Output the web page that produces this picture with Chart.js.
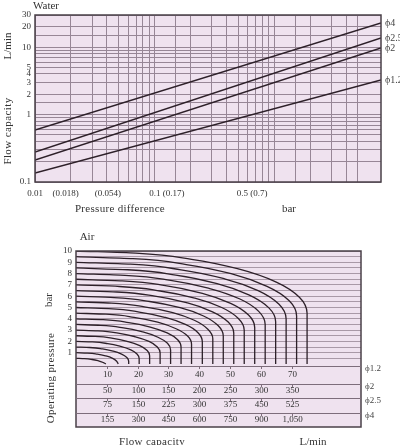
<!DOCTYPE html>
<html>
<head>
<meta charset="utf-8">
<script src="https://cdn.jsdelivr.net/npm/chart.js@4/dist/chart.umd.min.js"></script>
<style>
html,body{margin:0;padding:0;background:#fff;width:400px;height:445px;overflow:hidden;}
body{position:relative;font-family:"Liberation Serif","Times New Roman",serif;color:#333;}
canvas{position:absolute;left:0;}
#water{top:0;}
#air{top:225px;}
.t{position:absolute;white-space:nowrap;font-size:11px;line-height:12px;height:12px;text-align:center;width:140px;}
.r{transform:rotate(-90deg);transform-origin:50% 50%;}
</style>
</head>
<body>
<canvas id="water" width="400" height="220"></canvas>
<canvas id="air" width="400" height="220"></canvas>

<div class="t" style="left:-24px;top:-1px;">Water</div>
<div class="t r" style="left:-63px;top:40px;">L/min</div>
<div class="t r" style="left:-63px;top:125px;letter-spacing:0.4px;">Flow capacity</div>
<div class="t" style="left:50px;top:202px;letter-spacing:0.3px;">Pressure difference</div>
<div class="t" style="left:219px;top:202px;">bar</div>

<div class="t" style="left:17px;top:230px;">Air</div>
<div class="t r" style="left:-22px;top:294px;">bar</div>
<div class="t r" style="left:-20px;top:372px;letter-spacing:0.4px;">Operating pressure</div>
<div class="t" style="left:82px;top:435px;letter-spacing:0.3px;">Flow capacity</div>
<div class="t" style="left:243px;top:435px;">L/min</div>

<script>
// ---------------- Water chart data ----------------
const waterXRange = [0.01, 7.85];          // pressure difference (bar) at the two ends of each line
const waterPhi4  = [0.59, 22.9];           // flow capacity L/min
const waterPhi25 = [0.279, 13.7];
const waterPhi2  = [0.212, 9.73];
const waterPhi12 = [0.136, 3.26];
const waterNames = ['ϕ4', 'ϕ2.5', 'ϕ2', 'ϕ1.2'];
const waterYTickLabels = [0.1, 1, 2, 3, 4, 5, 10, 20, 30];
const waterXTickValues = [0.01, 0.018, 0.0408, 0.127, 0.655];
const waterXTickLabels = ['0.01', '(0.018)', '(0.054)', '0.1 (0.17)', '0.5 (0.7)'];

// ---------------- Air chart data (flow for ϕ1.2 in L/min, outlet pressure in bar) ----------------
const c0_5  = [[0,0.5],[2.7,0.47],[5.2,0.4],[7.3,0.28],[8.9,0.12],[9.7,0]];
const c1_0  = [[0,1],[3.6,0.97],[6.9,0.87],[9.7,0.71],[11.9,0.5],[13.2,0.25],[13.7,0]];
const c1_5  = [[0,1.5],[4.4,1.46],[8.6,1.33],[12.1,1.13],[14.8,0.87],[16.5,0.57],[17.1,0.24],[17.1,0]];
const c2_0  = [[0,2],[5.3,1.95],[10.3,1.8],[14.5,1.56],[17.8,1.25],[19.8,0.88],[20.5,0.49],[20.5,0]];
const c2_5  = [[0,2.5],[6.2,2.44],[12,2.27],[16.9,1.99],[20.7,1.62],[23.1,1.2],[23.9,0.74],[23.9,0]];
const c3_0  = [[0,3],[7.1,2.93],[13.7,2.73],[19.3,2.41],[23.7,2],[26.4,1.51],[27.3,0.99],[27.3,0]];
const c3_5  = [[0,3.5],[8,3.42],[15.4,3.2],[21.7,2.84],[26.6,2.37],[29.7,1.83],[30.7,1.24],[30.7,0]];
const c4_0  = [[0,4],[8.8,3.92],[17.1,3.66],[24.1,3.27],[29.6,2.75],[33,2.14],[34.1,1.49],[34.1,0]];
const c4_5  = [[0,4.5],[9.7,4.41],[18.8,4.13],[26.5,3.7],[32.5,3.12],[36.3,2.46],[37.5,1.74],[37.5,0]];
const c5_0  = [[0,5],[10.6,4.9],[20.5,4.6],[29,4.12],[35.5,3.5],[39.6,2.77],[41,1.99],[41,0]];
const c5_5  = [[0,5.5],[11.5,5.39],[22.2,5.06],[31.4,4.55],[38.4,3.87],[42.8,3.08],[44.4,2.24],[44.4,0]];
const c6_0  = [[0,6],[12.4,5.88],[23.9,5.53],[33.8,4.98],[41.4,4.25],[46.1,3.4],[47.8,2.49],[47.8,0]];
const c6_5  = [[0,6.5],[13.3,6.37],[25.6,6],[36.2,5.4],[44.3,4.62],[49.4,3.71],[51.2,2.74],[51.2,0]];
const c7_0  = [[0,7],[14.1,6.86],[27.3,6.46],[38.6,5.83],[47.3,5],[52.7,4.03],[54.6,2.99],[54.6,0]];
const c7_5  = [[0,7.5],[15,7.36],[29,6.93],[41,6.26],[50.2,5.37],[56,4.34],[58,3.24],[58,0]];
const c8_0  = [[0,8],[15.9,7.85],[30.7,7.4],[43.4,6.68],[53.2,5.75],[59.3,4.66],[61.4,3.49],[61.4,0]];
const c8_5  = [[0,8.5],[16.8,8.34],[32.4,7.86],[45.8,7.11],[56.1,6.12],[62.6,4.97],[64.8,3.74],[64.8,0]];
const c9_0  = [[0,9],[17.7,8.83],[34.1,8.33],[48.2,7.54],[59.1,6.5],[65.9,5.29],[68.2,3.99],[68.2,0]];
const c9_5  = [[0,9.5],[18.5,9.32],[35.8,8.8],[50.6,7.97],[62,6.87],[69.2,5.6],[71.6,4.24],[71.6,0]];
const c10_0 = [[0,10],[19.4,9.81],[37.5,9.26],[53,8.39],[65,7.25],[72.5,5.91],[75,4.49],[75,0]];
const airCurves = [c0_5,c1_0,c1_5,c2_0,c2_5,c3_0,c3_5,c4_0,c4_5,c5_0,c5_5,c6_0,c6_5,c7_0,c7_5,c8_0,c8_5,c9_0,c9_5,c10_0];

const airYTickLabels = [1,2,3,4,5,6,7,8,9,10];
const tableColumnsAt = [10,20,30,40,50,60,70];           // position on the ϕ1.2 flow axis
const tableNames = ['ϕ1.2','ϕ2','ϕ2.5','ϕ4'];
const flowPhi12 = ['10','20','30','40','50','60','70'];
const flowPhi2  = ['50','100','150','200','250','300','350'];
const flowPhi25 = ['75','150','225','300','375','450','525'];
const flowPhi4  = ['155','300','450','600','750','900','1,050'];

// ---------------- styling ----------------
const SERIF = "'Liberation Serif','Times New Roman',serif";
const BG = '#efe2ef';
const GRID = '#978696';
const LINE = '#2d2029';
const TXT = '#333';
Chart.defaults.font.family = SERIF;
Chart.defaults.color = TXT;

const framePlugin = {
  id: 'frame',
  beforeDraw(chart) {
    const {ctx, chartArea: a} = chart;
    ctx.save();
    ctx.fillStyle = BG;
    ctx.fillRect(a.left, a.top, a.right - a.left, a.bottom - a.top);
    ctx.restore();
  },
  afterDraw(chart) {
    const {ctx, chartArea: a} = chart;
    ctx.save();
    ctx.strokeStyle = '#4a4048';
    ctx.lineWidth = 1.5;
    ctx.strokeRect(a.left, a.top, a.right - a.left, a.bottom - a.top);
    ctx.restore();
  }
};

const endLabels = {
  id: 'endLabels',
  afterDatasetsDraw(chart) {
    const {ctx, chartArea: a} = chart;
    ctx.save();
    ctx.font = '10px ' + SERIF;
    ctx.fillStyle = '#444';
    ctx.textBaseline = 'middle';
    chart.data.datasets.forEach((d, i) => {
      const meta = chart.getDatasetMeta(i);
      const p = meta.data[meta.data.length - 1];
      ctx.fillText(d.label, a.right + 4, p.y);
    });
    ctx.restore();
  }
};

const near = (list, v) => list.some(t => Math.abs(t - v) <= Math.abs(t) * 1e-6);

// ---------------- Water chart ----------------
const waterSeries = [waterPhi4, waterPhi25, waterPhi2, waterPhi12];
new Chart(document.getElementById('water'), {
  type: 'line',
  data: {
    datasets: waterSeries.map((s, i) => ({
      label: waterNames[i],
      data: s.map((v, j) => ({x: waterXRange[j], y: v})),
      borderColor: LINE, borderWidth: 1.5, pointRadius: 0, tension: 0
    }))
  },
  options: {
    responsive: false, animation: false,
    layout: {autoPadding: false, padding: {top: 15, right: 19, left: 0, bottom: 0}},
    plugins: {legend: {display: false}, tooltip: {enabled: false}},
    scales: {
      x: {
        type: 'logarithmic', min: 0.01, max: 7.85, position: 'bottom', weight: 0,
        grid: {color: c => (c.tick && c.tick.value > 5.5) ? 'rgba(0,0,0,0)' : GRID, lineWidth: 1, drawTicks: false},
        border: {display: false},
        ticks: {display: false},
        afterFit: s => { s.height = 0; }
      },
      xl: {
        type: 'logarithmic', min: 0.01, max: 7.85, position: 'bottom', weight: 1,
        grid: {display: false, drawTicks: false}, border: {display: false},
        afterBuildTicks: s => { s.ticks = waterXTickValues.map(v => ({value: v})); },
        ticks: {autoSkip: false, maxRotation: 0, padding: 6, font: {size: 9}, callback: (v, i) => waterXTickLabels[i]},
        afterFit: s => { s.height = 38; }
      },
      y: {
        type: 'logarithmic', min: 0.1, max: 30,
        grid: {color: GRID, lineWidth: 1, drawTicks: false},
        border: {display: false},
        ticks: {autoSkip: false, padding: 4, font: {size: 9},
          callback: v => near(waterYTickLabels, v) ? String(+v.toPrecision(6)) : ''},
        afterFit: s => { s.width = 35; }
      }
    }
  },
  plugins: [framePlugin, endLabels]
});

// ---------------- Air chart ----------------
const tablePlugin = {
  id: 'flowTable',
  afterDraw(chart) {
    const {ctx, chartArea: a, scales: {x, y}} = chart;
    const y0 = y.getPixelForValue(0);
    const lines = [y0 + 2, y0 + 20, y0 + 34, y0 + 49];
    const textAt = [y0 + 11, y0 + 27, y0 + 41, y0 + 56];
    const rows = [flowPhi12, flowPhi2, flowPhi25, flowPhi4];
    ctx.save();
    ctx.strokeStyle = '#7d6d7b';
    ctx.lineWidth = 1;
    lines.forEach(ly => {
      ctx.beginPath(); ctx.moveTo(a.left, Math.round(ly) + 0.5); ctx.lineTo(a.right, Math.round(ly) + 0.5); ctx.stroke();
    });
    ctx.font = '9px ' + SERIF;
    ctx.fillStyle = TXT;
    ctx.textAlign = 'center';
    ctx.textBaseline = 'middle';
    rows.forEach((row, r) => {
      const top = Math.round(lines[r]) + 0.5;
      row.forEach((lbl, k) => {
        const px = Math.round(x.getPixelForValue(tableColumnsAt[k])) + 0.5;
        ctx.beginPath(); ctx.moveTo(px, top); ctx.lineTo(px, top + 2.5); ctx.stroke();
        ctx.fillText(lbl, px, textAt[r]);
      });
    });
    ctx.textAlign = 'left';
    ctx.fillStyle = '#444';
    tableNames.forEach((n, r) => ctx.fillText(n, a.right + 4, lines[r] + 3));
    ctx.restore();
  }
};

new Chart(document.getElementById('air'), {
  type: 'line',
  data: {
    datasets: airCurves.map(c => ({
      data: c.map(([q, p]) => ({x: q, y: p})),
      borderColor: LINE, borderWidth: 1.3, pointRadius: 0,
      cubicInterpolationMode: 'monotone', indexAxis: 'y'
    }))
  },
  options: {
    responsive: false, animation: false,
    indexAxis: 'y',
    layout: {autoPadding: false, padding: {top: 26, right: 39, left: 0, bottom: 18}},
    plugins: {legend: {display: false}, tooltip: {enabled: false}},
    scales: {
      x: {type: 'linear', min: 0, max: 92.5, display: false},
      y: {
        type: 'linear', min: -5.575, max: 10,
        afterBuildTicks: s => { const t = []; for (let v = 0; v <= 10; v += 0.5) t.push({value: v}); s.ticks = t; },
        grid: {color: c => (c.tick && c.tick.value > 0) ? '#a999a7' : 'rgba(0,0,0,0)', lineWidth: 1, drawTicks: false},
        border: {display: false},
        ticks: {autoSkip: false, padding: 4, font: {size: 9},
          callback: v => near(airYTickLabels, v) ? String(v) : ''},
        afterFit: s => { s.width = 76; }
      }
    }
  },
  plugins: [framePlugin, tablePlugin]
});
</script>
</body>
</html>
